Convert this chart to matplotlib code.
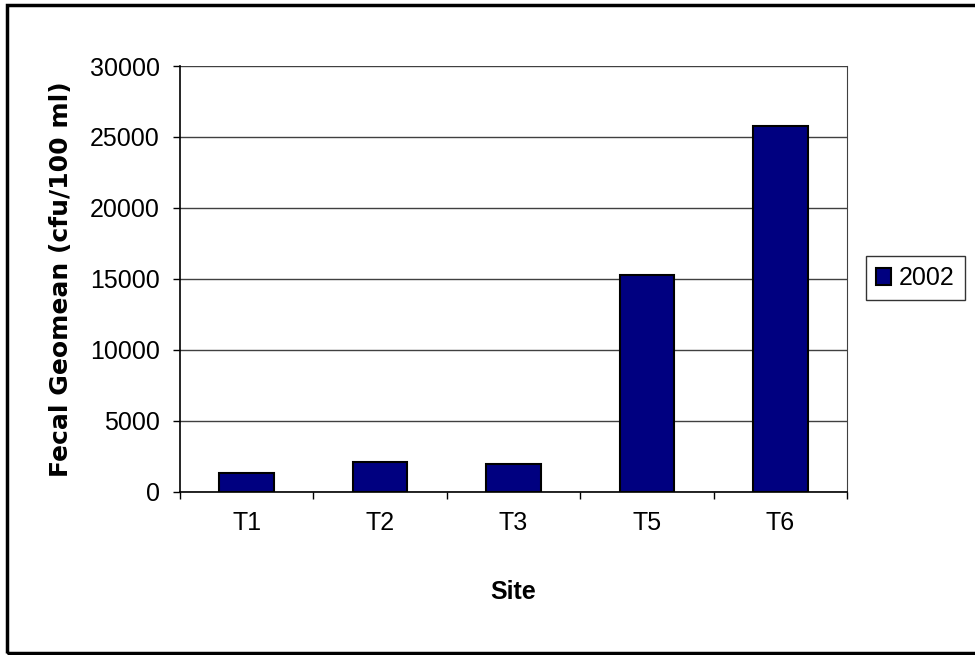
import matplotlib
matplotlib.use("Agg")
import matplotlib.pyplot as plt
from matplotlib.patches import Rectangle
import numpy as np

plt.rcParams['font.family'] = ['Liberation Sans', 'DejaVu Sans']

sites = ["T1", "T2", "T3", "T5", "T6"]
geomean_2002 = [1300, 2100, 1950, 15300, 25800]
yticks = [0, 5000, 10000, 15000, 20000, 25000, 30000]

fig = plt.figure(figsize=(9.75, 6.55), dpi=100)
ax = fig.add_axes([0.1846, 0.2493, 0.6841, 0.6499])

x = np.arange(len(sites))
bars = ax.bar(x, geomean_2002, width=0.41, color="#000080", edgecolor="black",
              linewidth=1.5, zorder=3, label="2002")

ax.set_xlim(-0.5, len(sites) - 0.5)
ax.set_ylim(0, 30000)
ax.set_yticks(yticks)
ax.set_yticklabels([str(v) for v in yticks])
ax.yaxis.grid(True, color="#404040", linewidth=1.0, zorder=0)

# ticks sit between the categories, labels in the middle
ax.set_xticks(np.arange(-0.5, len(sites)), minor=False)
ax.set_xticklabels([])
ax.set_xticks(x, minor=True)
ax.set_xticklabels(sites, minor=True)
ax.tick_params(axis="x", which="major", direction="out", length=5, width=1)
ax.tick_params(axis="x", which="minor", length=0, pad=14, labelsize=18)
ax.tick_params(axis="y", direction="out", length=5, width=1, labelsize=18, pad=9.5)

ax.spines["top"].set_visible(False)
ax.spines["right"].set_color("#404040")
for s in ("left", "bottom"):
    ax.spines[s].set_color("black")
    ax.spines[s].set_linewidth(1.2)

ax.set_xlabel("Site", fontsize=18, fontweight="bold", labelpad=32)
ax.set_ylabel("Fecal Geomean (cfu/100 ml)", fontsize=18, fontweight="bold",
              family="DejaVu Sans", labelpad=12)

leg = fig.legend(handles=[bars], labels=["2002"], loc="center",
                 bbox_to_anchor=(0.939, 0.575), fontsize=18, frameon=True,
                 fancybox=False, handlelength=0.6, handleheight=0.7,
                 handletextpad=0.3, borderpad=0.4, borderaxespad=0)
leg.get_frame().set_edgecolor("black")
leg.get_frame().set_linewidth(1.0)

# outer chart border
fig.patches.append(Rectangle((0.0072, 0.003), 1.05, 0.989,
                             transform=fig.transFigure, fill=False,
                             edgecolor="black", linewidth=2.5,
                             clip_on=False))

fig.savefig("out.png", dpi=100)
